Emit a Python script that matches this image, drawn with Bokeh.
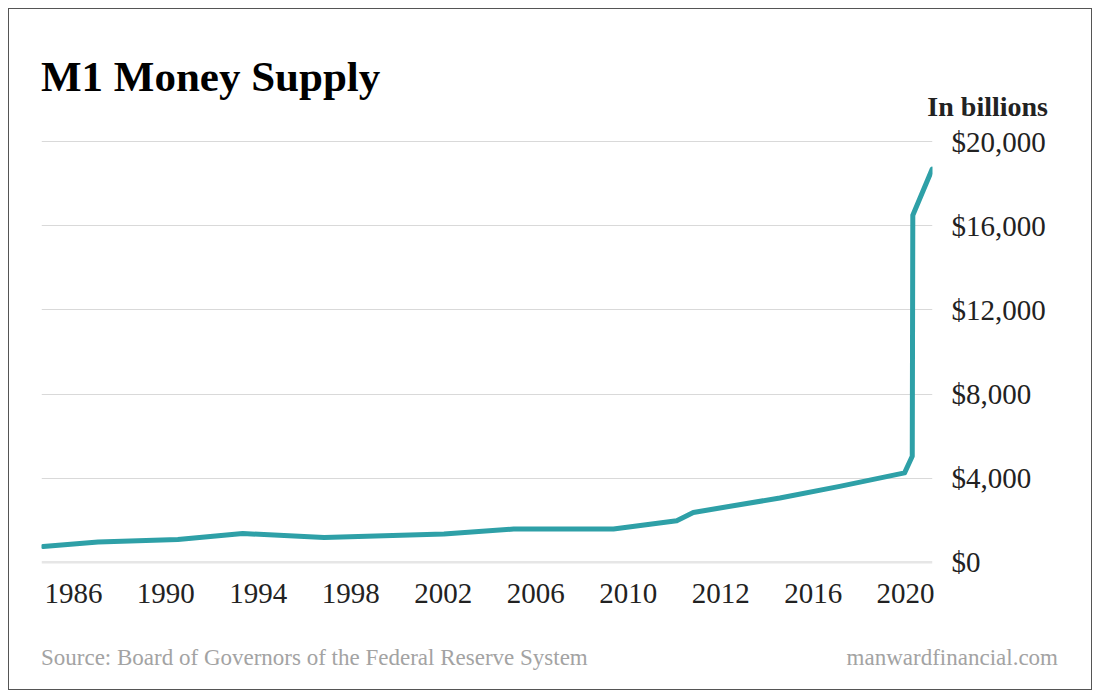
from bokeh.plotting import figure
from bokeh.layouts import column
from bokeh.models import FixedTicker, NumeralTickFormatter, Label, Span, Range1d
from bokeh.embed import file_html
from bokeh.resources import INLINE

# ---- data ----
tick_labels = ["1986", "1990", "1994", "1998", "2002", "2006", "2010", "2012", "2016", "2020"]
tick_pos = list(range(len(tick_labels)))
period = [-0.327, 0.267, 1.13, 1.831, 2.712, 4.007, 4.762, 5.841, 6.525, 6.704,
          7.64, 8.287, 8.989, 9.072, 9.078, 9.288]
m1_billions = [750, 960, 1080, 1370, 1180, 1340, 1580, 1580, 1975, 2370,
               3060, 3610, 4250, 5040, 16500, 18700]
y_ticks = [0, 4000, 8000, 12000, 16000, 20000]

title_text = "M1 Money Supply"
unit_text = "In billions"
source_text = "Source: Board of Governors of the Federal Reserve System"
site_text = "manwardfinancial.com"

TEAL = "#2ea0a7"
FONT = "Liberation Serif"
W = 1082
HEAD_H, MAIN_H, FOOT_H = 116, 491, 73


def text_panel(height):
    f = figure(width=W, height=height, output_backend="svg", toolbar_location=None,
               x_range=Range1d(0, 1), y_range=Range1d(0, 1),
               x_axis_type=None, y_axis_type=None, min_border=0, frame_align=False)
    f.outline_line_color = None
    f.xgrid.visible = False
    f.ygrid.visible = False
    f.background_fill_color = "white"
    f.border_fill_color = "white"
    return f


# ---- header ----
head = text_panel(HEAD_H)
head.add_layout(Label(x=31.5, y=49, x_units="screen", y_units="screen", text=title_text,
                      text_font=FONT, text_font_size="43px", text_font_style="bold",
                      text_color="#000000", text_baseline="middle", text_align="left"))
head.add_layout(Label(x=1038.5, y=19, x_units="screen", y_units="screen", text=unit_text,
                      text_font=FONT, text_font_size="28px", text_font_style="bold",
                      text_color="#222222", text_baseline="middle", text_align="right"))

# ---- main chart ----
p = figure(width=W, height=MAIN_H, output_backend="svg", toolbar_location=None,
           x_range=Range1d(-0.345, 9.291), y_range=Range1d(-200, 20200),
           y_axis_location="right", frame_align=False,
           min_border_left=32, min_border_right=159, min_border_top=12, min_border_bottom=50)
p.outline_line_color = None
p.background_fill_color = "white"
p.border_fill_color = "white"

p.xaxis.ticker = FixedTicker(ticks=tick_pos)
p.xaxis.major_label_overrides = {i: t for i, t in zip(tick_pos, tick_labels)}
p.yaxis.ticker = FixedTicker(ticks=y_ticks)
p.yaxis.formatter = NumeralTickFormatter(format="$0,0")

for ax in (p.xaxis, p.yaxis):
    ax.axis_line_color = None
    ax.major_tick_line_color = None
    ax.minor_tick_line_color = None
    ax.major_label_text_font = FONT
    ax.major_label_text_font_size = "29px"
    ax.major_label_text_color = "#222222"
p.xaxis.major_label_standoff = 11
p.yaxis.major_label_standoff = 13

p.xgrid.grid_line_color = None
p.ygrid.grid_line_color = "#d9d9d9"
p.ygrid.grid_line_width = 1
p.ygrid.ticker = FixedTicker(ticks=y_ticks[1:])

p.add_layout(Span(location=0, dimension="width", line_color="#e6e6e6", line_width=2.5))

p.line(period, m1_billions, line_color=TEAL, line_width=5, line_cap="round", line_join="round")

# ---- footer ----
foot = text_panel(FOOT_H)
foot.add_layout(Label(x=31.5, y=32, x_units="screen", y_units="screen", text=source_text,
                      text_font=FONT, text_font_size="23px", text_color="#a3a3a3",
                      text_baseline="middle", text_align="left"))
foot.add_layout(Label(x=1048.5, y=32, x_units="screen", y_units="screen", text=site_text,
                      text_font=FONT, text_font_size="23px", text_color="#a3a3a3",
                      text_baseline="middle", text_align="right"))

layout = column(head, p, foot, spacing=0)
layout.styles = {"border": "1.5px solid #555555", "margin": "8px", "background-color": "white"}

open("out.html", "w").write(file_html(layout, INLINE))
